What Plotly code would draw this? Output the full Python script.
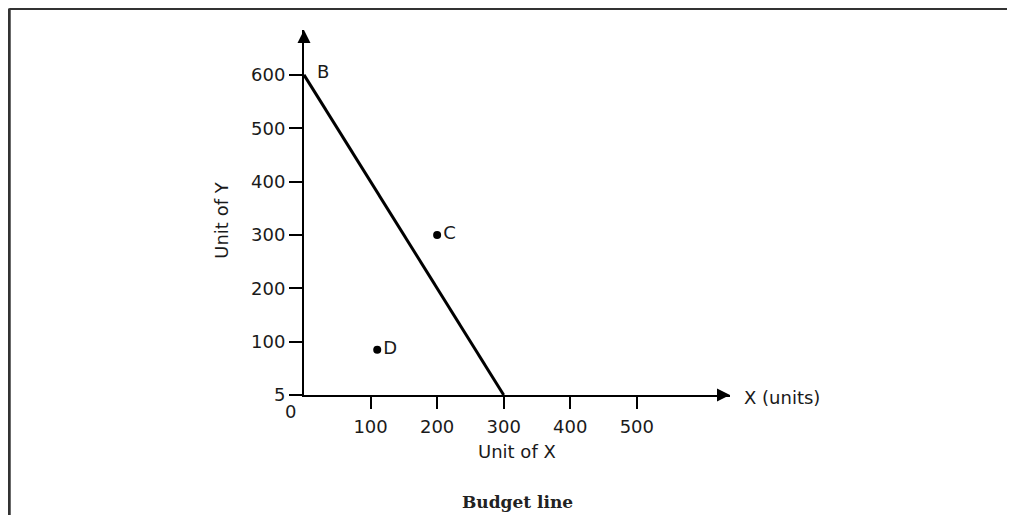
import plotly.graph_objects as go

# Data
budget_x = [0, 300]
budget_y = [600, 0]
point_labels = ["C", "D"]
point_x = [200, 110]
point_y = [300, 85]
x_ticks = [100, 200, 300, 400, 500]
x_ticktext = ["100", "200", "300", "400", "500"]
y_ticks = [0, 100, 200, 300, 400, 500, 600]
y_ticktext = ["5", "100", "200", "300", "400", "500", "600"]
x_max = 640
y_max = 684

# page shows figure with an 8px offset; work in window pixels and subtract it
OFF = 8
W, H = 1015 - OFF, 515 - OFF
L, R_PX = 304 - OFF, 729.6 - OFF
T, B_PX = 30 - OFF, 395.4 - OFF
pw = R_PX - L
ph = B_PX - T

def px(xp):
    return (xp - OFF - L) / pw

def py(yp):
    return (B_PX - (yp - OFF)) / ph

FONT = "DejaVu Sans"
TXT = "#1a1a1a"
FS = 18

fig = go.Figure()

fig.add_trace(go.Scatter(
    x=budget_x, y=budget_y, mode="lines",
    line=dict(color="black", width=3), cliponaxis=False,
    hoverinfo="skip", showlegend=False))

fig.add_trace(go.Scatter(
    x=point_x, y=point_y, mode="markers+text", text=point_labels,
    textposition="middle right",
    textfont=dict(family=FONT, size=FS, color=TXT),
    marker=dict(color="black", size=8), cliponaxis=False,
    showlegend=False))

annotations = [
    dict(x=budget_x[0], y=budget_y[0], xref="x", yref="y", text="B",
         showarrow=False, xanchor="left", yanchor="middle", xshift=11, yshift=3,
         font=dict(family=FONT, size=FS, color=TXT)),
    dict(x=0, y=0, xref="x", yref="y", text="0", showarrow=False,
         xanchor="center", yanchor="middle", xshift=-14, yshift=-16,
         font=dict(family=FONT, size=FS, color=TXT)),
    dict(x=0, y=y_max, xref="x", yref="y", ax=0, ay=y_max - 16, axref="x", ayref="y",
         showarrow=True, arrowhead=2, arrowsize=1.3, arrowwidth=2, arrowcolor="black",
         standoff=0, text=""),
    dict(x=x_max, y=0, xref="x", yref="y", ax=x_max - 20, ay=0, axref="x", ayref="y",
         showarrow=True, arrowhead=2, arrowsize=1.3, arrowwidth=2, arrowcolor="black",
         standoff=0, text=""),
    dict(x=px(742), y=py(398), xref="paper", yref="paper", text="X (units)",
         showarrow=False, xanchor="left", yanchor="middle",
         font=dict(family=FONT, size=FS, color=TXT)),
    dict(x=px(517), y=py(452), xref="paper", yref="paper", text="Unit of X",
         showarrow=False, xanchor="center", yanchor="middle",
         font=dict(family=FONT, size=FS, color=TXT)),
    dict(x=px(222), y=py(220), xref="paper", yref="paper", text="Unit of Y",
         showarrow=False, xanchor="center", yanchor="middle", textangle=-90,
         font=dict(family=FONT, size=FS, color=TXT)),
    dict(x=px(517), y=py(503), xref="paper", yref="paper", text="<b>Budget line</b>",
         showarrow=False, xanchor="center", yanchor="middle",
         font=dict(family="DejaVu Serif", size=17, color="#222222")),
]

shapes = [
    dict(type="line", xref="paper", yref="paper", x0=px(9.5), y0=py(8.5), x1=px(1030), y1=py(8.5),
         line=dict(color="#333333", width=3)),
    dict(type="line", xref="paper", yref="paper", x0=px(9.5), y0=py(8.5), x1=px(9.5), y1=py(530),
         line=dict(color="#333333", width=3)),
]

fig.update_layout(
    width=W, height=H,
    margin=dict(l=L, r=W - R_PX, t=T, b=H - B_PX, pad=0),
    paper_bgcolor="white", plot_bgcolor="white",
    font=dict(family=FONT, size=FS, color=TXT),
    annotations=annotations, shapes=shapes,
    xaxis=dict(range=[0, x_max], tickvals=x_ticks, ticktext=x_ticktext,
               showline=True, linecolor="black", linewidth=2,
               ticks="outside", ticklen=12, tickwidth=2, tickcolor="black",
               ticklabelstandoff=2,
               showgrid=False, zeroline=False, fixedrange=True),
    yaxis=dict(range=[0, y_max], tickvals=y_ticks, ticktext=y_ticktext,
               showline=True, linecolor="black", linewidth=2,
               ticks="outside", ticklen=13, tickwidth=2, tickcolor="black",
               showgrid=False, zeroline=False, fixedrange=True),
)

fig.write_html("out.html")
